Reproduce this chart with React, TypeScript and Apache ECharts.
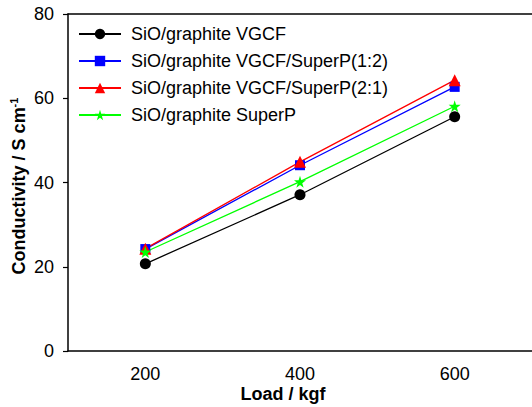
import React, { useEffect, useRef } from "react";
import * as echarts from "echarts";

const loads = ["200", "400", "600"];
const vgcf = [20.7, 37.1, 55.6];
const vgcfSp12 = [24.2, 44.1, 62.7];
const vgcfSp21 = [24.3, 44.9, 64.3];
const superP = [23.5, 40.2, 58.1];
const yTicks = [0, 20, 40, 60, 80];

const seriesNames = [
  "SiO/graphite VGCF",
  "SiO/graphite VGCF/SuperP(1:2)",
  "SiO/graphite VGCF/SuperP(2:1)",
  "SiO/graphite SuperP",
];

const STAR =
  "path://M50,0 L61,35 L98,35 L68,57 L79,91 L50,70 L21,91 L32,57 L2,35 L39,35 Z";

const FONT = "'Liberation Sans', Arial, sans-serif";

export default function App() {
  const ref = useRef<HTMLDivElement>(null);
  useEffect(() => {
    document.body.style.margin = "0";
    if (!ref.current) return;
    const chart = echarts.init(ref.current, undefined, { renderer: "svg" });
    const mk = (
      name: string,
      data: number[],
      color: string,
      symbol: string,
      size: number
    ) => ({
      name,
      type: "line",
      data,
      symbol,
      symbolSize: size,
      showSymbol: true,
      lineStyle: { color, width: 1.3 },
      itemStyle: { color },
      z: 3,
    });
    chart.setOption({
      animation: false,
      backgroundColor: "#fff",
      textStyle: { fontFamily: FONT },
      grid: {
        left: 68,
        top: 14,
        right: -4,
        bottom: 56,
        show: false,
      },
      xAxis: [
        {
          type: "category",
          data: loads,
          boundaryGap: true,
          axisLine: { lineStyle: { color: "#000", width: 1.5 } },
          axisTick: {
            alignWithLabel: true,
            inside: false,
            length: 5,
            lineStyle: { color: "#000", width: 1.2 },
          },
          axisLabel: {
            color: "#000",
            fontSize: 18,
            fontFamily: FONT,
            margin: 14,
          },
          splitLine: { show: false },
        },
        {
          type: "category",
          data: loads,
          position: "top",
          axisLine: { show: true, lineStyle: { color: "#000", width: 1.5 } },
          axisTick: { show: false },
          axisLabel: { show: false },
          splitLine: { show: false },
        },
      ],
      yAxis: {
        type: "value",
        min: yTicks[0],
        max: yTicks[yTicks.length - 1],
        interval: 20,
        axisLine: { show: true, lineStyle: { color: "#000", width: 1.5 } },
        axisTick: {
          show: true,
          inside: false,
          length: 5,
          lineStyle: { color: "#000", width: 1.2 },
        },
        axisLabel: {
          color: "#000",
          fontSize: 18,
          fontFamily: FONT,
          margin: 14,
        },
        splitLine: { show: false },
      },
      legend: {
        orient: "vertical",
        left: 78,
        top: 25,
        itemWidth: 42,
        itemHeight: 13,
        itemGap: 9,
        padding: 0,
        data: seriesNames,
        textStyle: {
          color: "#000",
          fontSize: 18,
          fontFamily: FONT,
          padding: [0, 0, 0, 5],
        },
      },
      series: [
        mk(seriesNames[0], vgcf, "#000000", "circle", 11),
        mk(seriesNames[1], vgcfSp12, "#0000ff", "rect", 10),
        mk(seriesNames[2], vgcfSp21, "#ff0000", "triangle", 12),
        mk(seriesNames[3], superP, "#00ff00", STAR, 12),
      ],
      graphic: [
        {
          type: "text",
          x: 283,
          y: 394,
          style: {
            text: "Load / kgf",
            fontSize: 18,
            fontWeight: "bold",
            fontFamily: FONT,
            fill: "#000",
            align: "center",
            verticalAlign: "middle",
          },
        },
        {
          type: "text",
          x: 19,
          y: 186,
          rotation: Math.PI / 2,
          style: {
            text: "{a|Conductivity / S cm}{b|-1}",
            fontFamily: FONT,
            fill: "#000",
            align: "center",
            verticalAlign: "middle",
            rich: {
              a: {
                fontSize: 18,
                fontWeight: "bold",
                fontFamily: FONT,
                lineHeight: 22,
              },
              b: {
                fontSize: 11,
                fontWeight: "bold",
                fontFamily: FONT,
                verticalAlign: "top",
                lineHeight: 12,
              },
            },
          },
        },
      ],
    });
    return () => chart.dispose();
  }, []);
  return <div ref={ref} style={{ width: 532, height: 407 }} />;
}
